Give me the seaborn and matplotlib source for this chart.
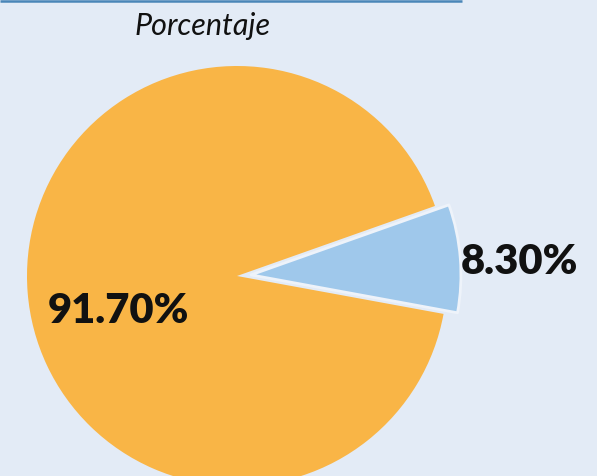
import matplotlib
matplotlib.use("Agg")
import matplotlib.pyplot as plt
import seaborn as sns

# Share of each group
categorias = ["Grupo A", "Grupo B"]
porcentajes = [8.30, 91.70]
colores = ["#9FC8EB", "#F9B546"]
titulo = "Porcentaje"

sns.set_theme(style="white")
plt.rcParams["font.family"] = ["Lato", "DejaVu Sans"]

fondo = "#E3EBF6"
W, H = 597, 476
fig = plt.figure(figsize=(W / 100, H / 100), dpi=100, facecolor=fondo)
ax = fig.add_axes([0, 0, 1, 1])
ax.set_facecolor(fondo)

# Pie in pixel-like coordinates (y grows upward); explode is in data units
cx, cy, r = 237, 200, 210
wedges, _ = ax.pie(
    porcentajes,
    colors=colores,
    startangle=-10.4,
    counterclock=True,
    explode=[14, 0],
    center=(cx, cy),
    radius=r,
    frame=True,
)
wedges[0].set_edgecolor("#EEF3FA")
wedges[0].set_linewidth(2)
wedges[0].set_joinstyle("round")
wedges[1].set_linewidth(0)

ax.set_xlim(0, W)
ax.set_ylim(0, H)
ax.set_aspect("auto")
ax.axis("off")

# Value labels
ax.text(519, H - 262, f"{porcentajes[0]:.2f}%", ha="center", va="center",
        fontsize=30, fontweight="heavy", color="#111111")
ax.text(118, H - 311, f"{porcentajes[1]:.2f}%", ha="center", va="center",
        fontsize=30, fontweight="heavy", color="#111111")

# Title and top rule
ax.text(203, H - 26, titulo, ha="center", va="center", fontsize=22,
        fontstyle="italic", color="#111111")
ax.plot([0, 462], [H - 0.8, H - 0.8], color="#4A86B8", lw=1.8,
        solid_capstyle="butt", clip_on=False)

fig.savefig("out.png", dpi=100, facecolor=fondo)
